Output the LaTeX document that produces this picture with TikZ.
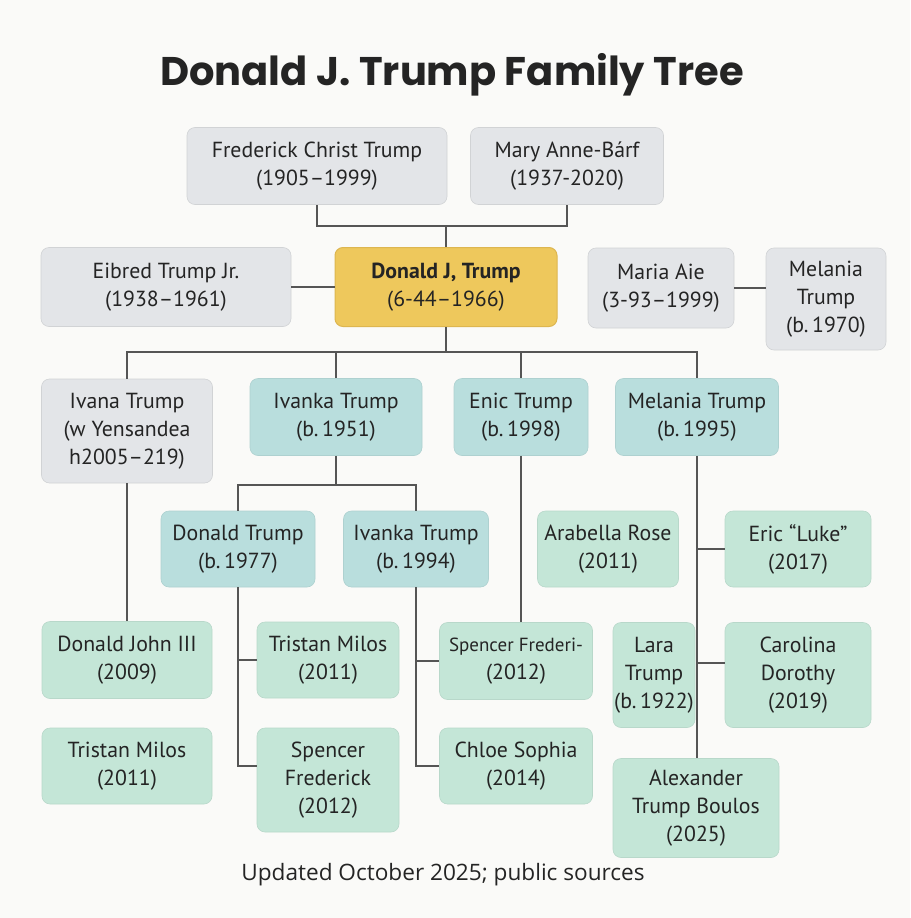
\documentclass[tikz,border=0pt]{standalone}
\usepackage{fontspec}
\setmainfont{PT Sans}
\newfontfamily\titlefont{Poppins}
\newfontfamily\footfont{Open Sans}
\usetikzlibrary{calc}

\definecolor{pagebg}{HTML}{FAFAF8}
\definecolor{greyfill}{HTML}{E3E5E8}
\definecolor{tealfill}{HTML}{B9DEDD}
\definecolor{greenfill}{HTML}{C4E6D7}
\definecolor{goldfill}{HTML}{EEC85C}
\definecolor{golddraw}{HTML}{DDB650}
\definecolor{linkgrey}{HTML}{555555}
\definecolor{ink}{HTML}{242424}

\begin{document}
\begin{tikzpicture}[x=1pt,y=-1pt,font=\fontsize{21.8}{28}\selectfont,text=ink]
    \tikzstyle{person}=[rounded corners=8pt,align=center,inner sep=0pt]
    \tikzstyle{grey node}=[person,fill=greyfill,draw=greyfill!92!black,line width=0.6pt]
    \tikzstyle{teal node}=[person,fill=tealfill,draw=tealfill!94!black,line width=0.6pt]
    \tikzstyle{green node}=[person,fill=greenfill,draw=greenfill!94!black,line width=0.6pt]
    \tikzstyle{gold node}=[person,fill=goldfill,draw=golddraw,line width=1pt]
    \tikzstyle{link}=[draw=linkgrey,line width=2.4pt]

    \useasboundingbox[fill=pagebg] (0,0) rectangle (910,918);

    % title and footer
    \node(title) at (452,75) {\titlefont\bfseries\fontsize{40}{44}\selectfont Donald J. Trump Family Tree};
    \node(footer) at (443,875) {\footfont\fontsize{22.6}{26}\selectfont Updated October 2025; public sources};

    % parents
    \node(fred)[grey node,minimum width=260,minimum height=77] at (317,166) {Frederick Christ Trump\\(1905--1999)};
    \node(mary)[grey node,minimum width=193,minimum height=77] at (567,166) {Mary Anne-B\'arf\\(1937-2020)};

    % Donald, siblings and spouses
    \node(donald)[gold node,minimum width=222,minimum height=79] at (446,287) {\bfseries Donald J, Trump\\(6-44--1966)};
    \node(eibred)[grey node,minimum width=250,minimum height=79] at (166,287) {Eibred Trump Jr.\\(1938--1961)};
    \node(maria)[grey node,minimum width=146,minimum height=80] at (661,288) {Maria Aie\\(3-93--1999)};
    \node(melania)[grey node,minimum width=120,minimum height=102] at (826,299) {Melania\\Trump\\(b.\,1970)};

    % children
    \node(ivana)[grey node,minimum width=171,minimum height=104] at (127,431) {Ivana Trump\\(w Yensandea\\h2005--219)};
    \node(ivanka)[teal node,minimum width=172,minimum height=77] at (336,417) {Ivanka Trump\\(b.\,1951)};
    \node(enic)[teal node,minimum width=134,minimum height=77] at (521,417) {Enic Trump\\(b.\,1998)};
    \node(melania95)[teal node,minimum width=163,minimum height=77] at (697,417) {Melania Trump\\(b.\,1995)};

    % grandchildren
    \node(donald77)[teal node,minimum width=154,minimum height=76] at (238,549) {Donald Trump\\(b.\,1977)};
    \node(ivanka94)[teal node,minimum width=145,minimum height=76] at (416,549) {Ivanka Trump\\(b.\,1994)};
    \node(arabella)[green node,minimum width=141,minimum height=76] at (608,549) {Arabella Rose\\(2011)};
    \node(luke)[green node,minimum width=146,minimum height=76] at (798,549) {Eric ``Luke''\\(2017)};

    \node(djohn)[green node,minimum width=170,minimum height=77] at (127,660) {Donald John III\\(2009)};
    \node(tristan)[green node,minimum width=142,minimum height=76] at (328,660) {Tristan Milos\\(2011)};
    \node(sfrederi)[green node,minimum width=153,minimum height=77] at (516,661) {\fontsize{19}{28}\selectfont Spencer Frederi-\\(2012)};
    \node(lara)[green node,minimum width=82,minimum height=105] at (654,675) {Lara\\Trump\\(b.\,1922)};
    \node(carolina)[green node,minimum width=146,minimum height=105] at (798,675) {Carolina\\Dorothy\\(2019)};

    \node(tristanb)[green node,minimum width=170,minimum height=76] at (127,766) {Tristan Milos\\(2011)};
    \node(spencer)[green node,minimum width=142,minimum height=104] at (328,780) {Spencer\\Frederick\\(2012)};
    \node(chloe)[green node,minimum width=153,minimum height=76] at (516,766) {Chloe Sophia\\(2014)};
    \node(alex)[green node,minimum width=166,minimum height=99] at (696,808) {Alexander\\Trump Boulos\\(2025)};

    % connectors
    \coordinate(pbar) at (446,226);
    \draw[link] (fred.south) |- (pbar) -| (mary.south);
    \draw[link] (pbar) -- (donald.north);
    \draw[link] (eibred.east) -- (donald.west);
    \draw[link] (maria.east) -- (maria.east -| melania.west);

    \coordinate(kbar) at (446,352);
    \draw[link] (donald.south) -- (kbar);
    \draw[link] (ivana.north) |- (kbar) -| (melania95.north);
    \draw[link] (ivanka.north) -- (ivanka.north |- kbar);
    \draw[link] (enic.north) -- (enic.north |- kbar);

    \draw[link] (ivana.south) -- (djohn.north);
    \coordinate(ibar) at (336,485);
    \draw[link] (ivanka.south) -- (ibar);
    \draw[link] (donald77.north) |- (ibar) -| (ivanka94.north);

    \coordinate(sbranch) at ([yshift=14pt]spencer.west);
    \coordinate(cbranch) at ([yshift=12pt]carolina.west);
    \draw[link] (donald77.south) |- (sbranch);
    \draw[link] (donald77.south |- tristan.west) -- (tristan.west);
    \draw[link] (ivanka94.south) |- (chloe.west);
    \draw[link] (ivanka94.south |- sfrederi.west) -- (sfrederi.west);

    \draw[link] (enic.south) -- (enic.south |- sfrederi.north);
    \draw[link] (melania95.south) -- (melania95.south |- alex.north);
    \draw[link] (melania95.south |- luke.west) -- (luke.west);
    \draw[link] (melania95.south |- cbranch) -- (cbranch);
\end{tikzpicture}
\end{document}
